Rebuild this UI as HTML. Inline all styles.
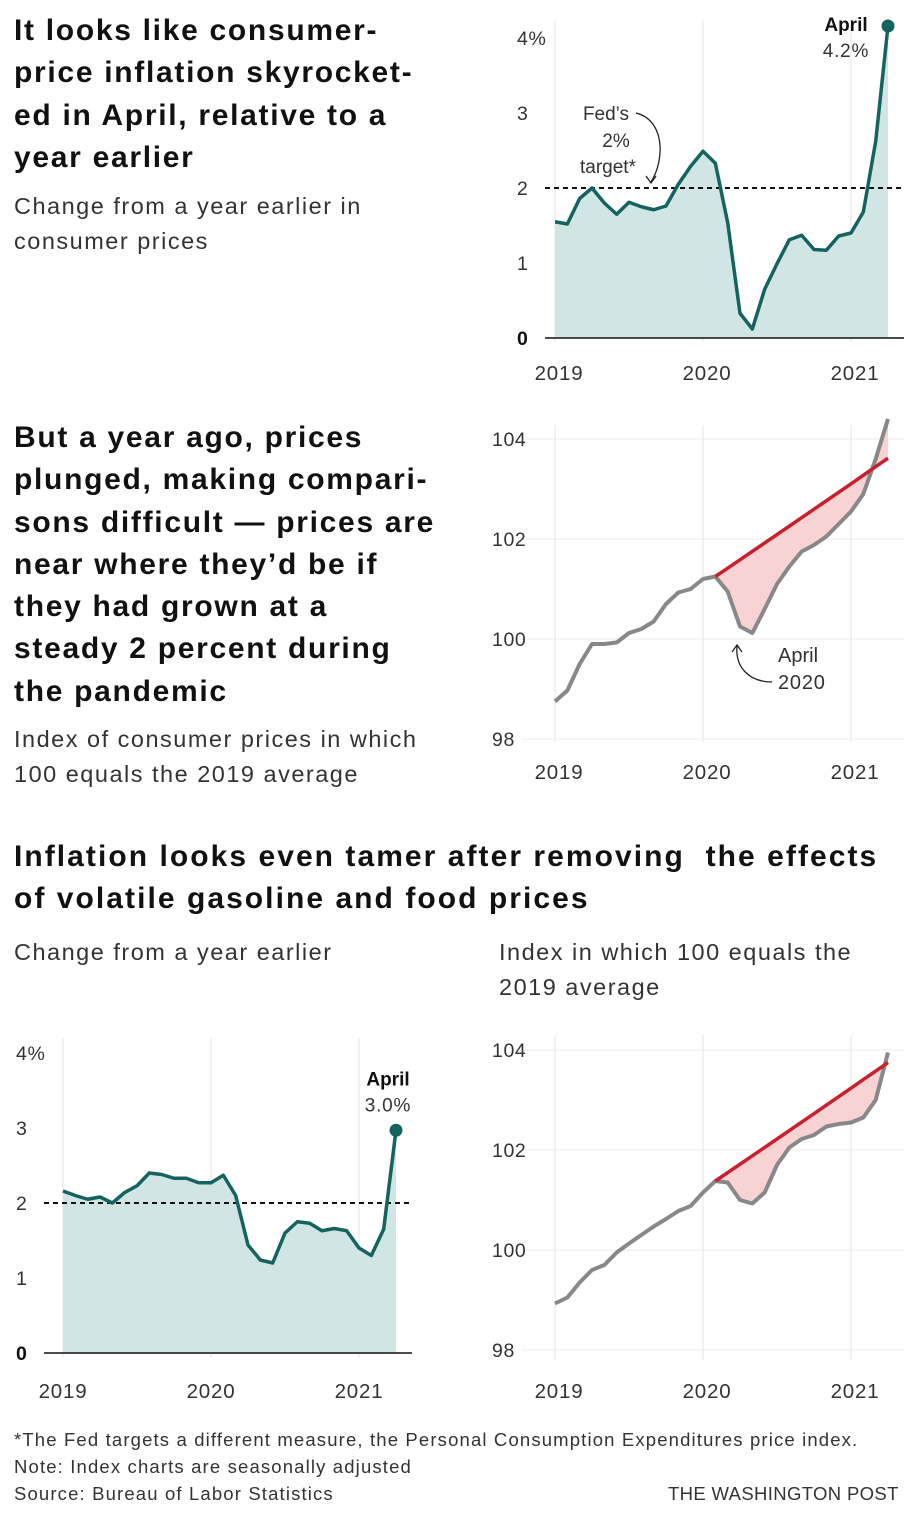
<!DOCTYPE html>
<html><head><meta charset="utf-8">
<style>
body{margin:0;background:#fff;width:916px;height:1518px;position:relative;font-family:"Liberation Sans",sans-serif;color:#111;overflow:hidden}
.t{position:absolute;left:14px;font-weight:bold;font-size:30px;letter-spacing:1.7px;line-height:42.3px;margin:0;white-space:nowrap}
.s{position:absolute;font-size:23.5px;letter-spacing:1.5px;line-height:35px;color:#333;margin:0;white-space:nowrap}
.f{position:absolute;left:14px;font-size:18.5px;letter-spacing:1.15px;line-height:27px;color:#333;white-space:nowrap}
svg{position:absolute;left:0;top:0}
svg text{font-family:"Liberation Sans",sans-serif;fill:#333}
</style></head><body>
<h1 class="t" style="top:10px">It looks like consumer-<br>price inflation skyrocket-<br>ed in April, relative to a<br>year earlier</h1>
<p class="s" style="left:14px;top:189px">Change from a year earlier in<br>consumer prices</p>
<h1 class="t" style="top:417px">But a year ago, prices<br>plunged, making compari-<br>sons difficult — prices are<br>near where they’d be if<br>they had grown at a<br>steady 2 percent during<br>the pandemic</h1>
<p class="s" style="left:14px;top:722px">Index of consumer prices in which<br>100 equals the 2019 average</p>
<h1 class="t" style="top:836px;letter-spacing:2.05px">Inflation looks even tamer after removing &nbsp;the effects<br>of volatile gasoline and food prices</h1>
<p class="s" style="left:14px;top:935px">Change from a year earlier</p>
<p class="s" style="left:499px;top:935px">Index in which 100 equals the<br>2019 average</p>
<div class="f" style="top:1426px">*The Fed targets a different measure, the Personal Consumption Expenditures price index.<br>Note: Index charts are seasonally adjusted<br>Source: Bureau of Labor Statistics</div>
<div class="f" style="top:1480px;left:668px;letter-spacing:0.35px">THE WASHINGTON POST</div>
<svg id="c" width="916" height="1518"></svg>
<script>
const cpiChange=[1.55,1.52,1.86,2.0,1.8,1.65,1.81,1.75,1.71,1.76,2.05,2.29,2.49,2.33,1.54,0.33,0.12,0.65,0.99,1.31,1.37,1.18,1.17,1.36,1.40,1.68,2.62,4.16];
const cpiIndex=[98.75,98.97,99.5,99.9,99.9,99.93,100.12,100.2,100.35,100.7,100.93,101.0,101.2,101.25,100.95,100.25,100.12,100.6,101.1,101.45,101.75,101.88,102.05,102.3,102.55,102.9,103.6,104.4];
const coreChange=[2.16,2.1,2.05,2.08,2.0,2.14,2.23,2.4,2.38,2.33,2.33,2.27,2.27,2.37,2.1,1.44,1.24,1.2,1.6,1.75,1.73,1.63,1.66,1.63,1.4,1.3,1.65,2.97];
const coreIndex=[98.93,99.05,99.35,99.6,99.7,99.95,100.13,100.3,100.47,100.62,100.78,100.88,101.15,101.38,101.35,101.0,100.93,101.15,101.7,102.05,102.22,102.3,102.47,102.52,102.55,102.65,103.0,103.95];
const yearLabels=["2019","2020","2021"];
const changeTicks=[0,1,2,3,4];
const indexTicks=[98,100,102,104];
const trendStart=13, trendRate=0.02;
const svg=document.getElementById('c');const NS='http://www.w3.org/2000/svg';
function mk(tag,a,name){const e=document.createElementNS(NS,tag);for(const k in a)e.setAttribute(k,a[k]);


svg.appendChild(e);return e;}
function chart(o){
 const X=m=>o.x0+m*o.pxYear/12, Y=v=>o.y0-(v-o.v0)*o.pxUnit;
 yearLabels.forEach((l,i)=>{const x=X(i*12);
  mk('line',{x1:x,x2:x,y1:o.gTop,y2:o.gBot,stroke:'#e4e4e4','stroke-width':1},'x-gridline');
  mk('text',{x:x+o.xlDx,y:o.gBot+o.xlOff,'font-size':20.5,'letter-spacing':'0.8','text-anchor':'middle'},'x-tick-label').textContent=l;});
 o.ticks.forEach(t=>{const y=Y(t);
  if(o.hgrid)mk('line',{x1:o.lx+30,x2:o.right,y1:y,y2:y,stroke:'#ececec'},'y-gridline');
  const tx=mk('text',{x:o.lx,y:y+7,'font-size':19.5,'letter-spacing':'0.6','font-weight':(t===0?'bold':'normal'),style:t===0?'fill:#111':''},'y-tick-label');tx.textContent=t+(o.pct&&t===o.ticks[o.ticks.length-1]?'%':'');});
 const d=o.data;
 const pts=d.map((v,i)=>X(i)+','+Y(v));
 if(o.area){
  mk('polygon',{points:X(0)+','+Y(0)+' '+pts.join(' ')+' '+X(d.length-1)+','+Y(0),fill:'#d2e5e5'},'area-fill');
  mk('line',{x1:o.lx+28,x2:o.right,y1:Y(2),y2:Y(2),stroke:'#111','stroke-width':2,'stroke-dasharray':'5,4'},'fed-target-line');
  mk('line',{x1:o.lx+28,x2:o.right,y1:Y(0),y2:Y(0),stroke:'#111','stroke-width':1.5},'baseline');
  mk('polyline',{points:pts.join(' '),fill:'none',stroke:'#14635f','stroke-width':3.5,'stroke-linejoin':'round'},'inflation-line');
  const li=d.length-1;mk('circle',{cx:X(li),cy:Y(d[li]),r:6.5,fill:'#14635f'},'april-dot');
  mk('text',{x:X(li)+o.ldx,y:Y(d[li])+o.ldy,'font-size':19,'font-weight':'bold','text-anchor':'middle',style:'fill:#111'},'april-label').textContent='April';
  mk('text',{x:X(li)+o.ldx,y:Y(d[li])+o.ldy+26,'font-size':19,'letter-spacing':'0.8','text-anchor':'middle'},'april-value').textContent=d[li].toFixed(1)+'%';
 } else {
  const base=d[trendStart];const tr=[];
  for(let i=trendStart;i<d.length;i++)tr.push(X(i)+','+Y(base*Math.pow(1+trendRate,(i-trendStart)/12)));
  const act=[];for(let i=d.length-1;i>=trendStart;i--)act.push(X(i)+','+Y(d[i]));
  mk('polygon',{points:tr.concat(act).join(' '),fill:'#f8d3d3'},'gap-fill');
  mk('polyline',{points:pts.join(' '),fill:'none',stroke:'#888','stroke-width':4,'stroke-linejoin':'round'},'index-line');
  mk('polyline',{points:tr.join(' '),fill:'none',stroke:'#c8202f','stroke-width':3.5},'trend-line');
 }
}
chart({x0:555,pxYear:148,y0:338,v0:0,pxUnit:75,gTop:20,gBot:342,xlOff:38,xlDx:4,ticks:changeTicks,lx:517,right:904,data:cpiChange,area:true,pct:true,ldx:-42,ldy:5});
chart({x0:555,pxYear:148,y0:639,v0:100,pxUnit:50,gTop:425,gBot:742,xlOff:37,xlDx:4,ticks:indexTicks,lx:492,right:904,data:cpiIndex,area:false,hgrid:true});
chart({x0:63,pxYear:148,y0:1353,v0:0,pxUnit:75,gTop:1038,gBot:1357,xlOff:41,xlDx:0,ticks:changeTicks,lx:16,right:412,data:coreChange,area:true,pct:true,ldx:-8,ldy:-45});
chart({x0:555,pxYear:148,y0:1250,v0:100,pxUnit:50,gTop:1035,gBot:1360,xlOff:38,xlDx:4,ticks:indexTicks,lx:492,right:904,data:coreIndex,area:false,hgrid:true});
// annotations
mk('text',{x:606,y:120,'font-size':19,'text-anchor':'middle'},'fed-annotation').textContent='Fed’s';
mk('text',{x:616,y:147,'font-size':19,'text-anchor':'middle'},'fed-annotation').textContent='2%';
mk('text',{x:608,y:173,'font-size':19,'text-anchor':'middle'},'fed-annotation').textContent='target*';
mk('path',{d:'M636,113 C665,120 665,160 651,182',fill:'none',stroke:'#222','stroke-width':1.3},'fed-arrow');
mk('path',{d:'M646,176 L651,183 L656,176',fill:'none',stroke:'#222','stroke-width':1.3},'fed-arrowhead');
mk('text',{x:778,y:662,'font-size':20},'april-2020-annotation').textContent='April';
mk('text',{x:778,y:689,'font-size':20,'letter-spacing':'0.8'},'april-2020-annotation').textContent='2020';
mk('path',{d:'M772,682 C750,682 735,668 737,646',fill:'none',stroke:'#222','stroke-width':1.3},'april-arrow');
mk('path',{d:'M732,652 L737,645 L742,652',fill:'none',stroke:'#222','stroke-width':1.3},'april-arrowhead');
</script>
</body></html>
